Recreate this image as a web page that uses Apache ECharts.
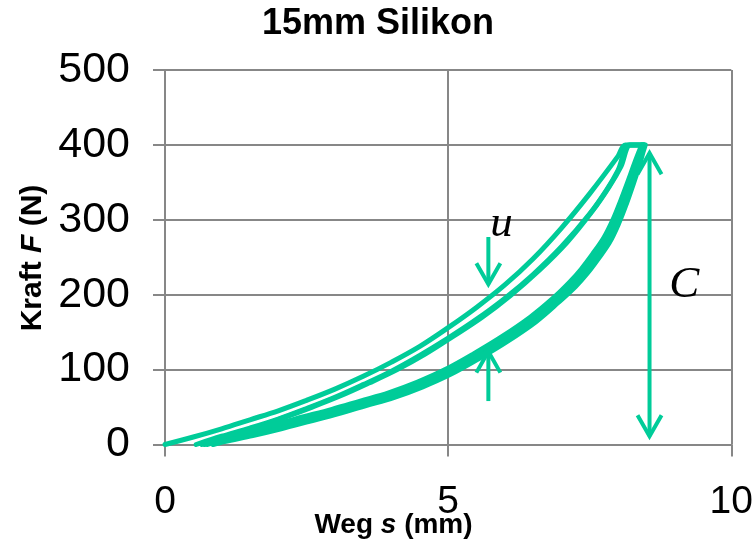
<!DOCTYPE html>
<html>
<head>
<meta charset="utf-8">
<script src="https://cdn.jsdelivr.net/npm/echarts@6/dist/echarts.min.js"></script>
<style>
html,body{margin:0;padding:0;background:#fff;}
#chart{width:756px;height:550px;}
</style>
</head>
<body>
<div id="chart"></div>
<script>
// ---- Data (Weg s in mm, Kraft F in N) ----
const titleText = '15mm Silikon';
const xAxisName = 'Weg {i|s} (mm)';
const yAxisName = 'Kraft {i|F} (N)';
const xMin = 0, xMax = 10, xStep = 5;
const yMin = 0, yMax = 500, yStep = 100;

// first loading curve
const loadA_s = [0, 0.5, 1.0, 1.5, 2.0, 2.5, 3.0, 3.5, 4.0, 4.5, 5.0, 5.5, 6.0, 6.5, 7.0, 7.5, 8.0, 8.13, 8.45];
const loadA_F = [0, 10, 21, 33, 45, 59, 74, 91, 110, 131, 156, 183, 213, 248, 289, 335, 385, 400, 400];

// later loading curves
const loadB_s = [0.55, 1.0, 1.5, 2.0, 2.5, 3.0, 3.5, 4.0, 4.5, 5.0, 5.5, 6.0, 6.5, 7.0, 7.5, 7.8, 8.0, 8.2, 8.45];
const loadB_F = [0, 11, 22, 34, 48, 63, 80, 98, 119, 142, 167, 195, 227, 264, 308, 340, 366, 400, 400];
const loadC_s = [0.65, 1.1, 1.6, 2.1, 2.6, 3.1, 3.6, 4.1, 4.6, 5.1, 5.6, 6.1, 6.6, 7.1, 7.55, 7.85, 8.05, 8.22, 8.45];
const loadC_F = [0, 12, 23, 36, 50, 65, 82, 100, 121, 145, 170, 199, 232, 270, 312, 345, 371, 400, 400];

// unloading curves
const unload1_s = [8.45, 8.4, 8.32, 8.22, 8.1, 7.96, 7.8, 7.6, 7.4, 7.2, 6.9, 6.5, 6.0, 5.5, 5.0, 4.5, 4.0, 3.5, 3.0, 2.5, 2.0, 1.5, 1.0, 0.75];
const unload1_F = [400, 390, 372, 350, 325, 298, 273, 251, 231, 214, 192, 167, 141, 118, 97, 80, 66, 55, 44, 34, 24, 15, 6, 0];
const unload2_s = [8.42, 8.36, 8.27, 8.17, 8.05, 7.91, 7.75, 7.55, 7.35, 7.15, 6.85, 6.45, 5.95, 5.45, 4.95, 4.45, 3.95, 3.45, 2.95, 2.45, 1.95, 1.45, 0.95, 0.7];
const unload2_F = [400, 389, 371, 350, 326, 300, 276, 254, 234, 217, 195, 170, 144, 121, 100, 83, 69, 58, 47, 37, 27, 18, 8, 0];
const unload3_s = [8.48, 8.44, 8.37, 8.27, 8.15, 8.01, 7.85, 7.65, 7.45, 7.25, 6.95, 6.55, 6.05, 5.55, 5.05, 4.55, 4.05, 3.55, 3.05, 2.55, 2.05, 1.55, 1.05, 0.85];
const unload3_F = [400, 390, 371, 348, 322, 295, 270, 248, 228, 211, 190, 164, 138, 115, 94, 77, 63, 52, 41, 31, 21, 12, 4, 0];

// annotation arrows: x position, tail F, tip F, number of heads
const arrowS    = [5.71, 5.71, 8.556];
const arrowTail = [277, 58, 11];
const arrowTip  = [214, 124, 389];
const arrowHeads = [1, 1, 2];

// annotation letters
const noteText = ['u', 'C'];
const noteS = [5.94, 9.17];
const noteF = [294, 213];

// ---- Chart ----
const teal = '#00cc99';
const gridGray = '#878787';
function pairs(xs, ys) { return xs.map((x, i) => [x, ys[i]]); }
const curves = [
  pairs(loadA_s, loadA_F),
  pairs(loadB_s, loadB_F),
  pairs(loadC_s, loadC_F),
  pairs(unload1_s, unload1_F),
  pairs(unload2_s, unload2_F),
  pairs(unload3_s, unload3_F)
];

const chart = echarts.init(document.getElementById('chart'), null, {renderer: 'canvas'});

const lineSeries = curves.map(d => ({
  type: 'line',
  data: d,
  showSymbol: false,
  smooth: 0.35,
  silent: true,
  lineStyle: {color: teal, width: 5, cap: 'round', join: 'round'},
  z: 3
}));

const arrowData = arrowS.map((s, i) => [s, arrowTail[i], arrowTip[i], arrowHeads[i]]);
function head(tip, from, L, W) {
  const dx = tip[0] - from[0], dy = tip[1] - from[1];
  const len = Math.sqrt(dx * dx + dy * dy) || 1;
  const ux = dx / len, uy = dy / len;
  const nx = -uy, ny = ux;
  return [
    [tip[0] - ux * L + nx * W, tip[1] - uy * L + ny * W],
    [tip[0], tip[1]],
    [tip[0] - ux * L - nx * W, tip[1] - uy * L - ny * W]
  ];
}

const option = {
  animation: false,
  backgroundColor: '#ffffff',
  grid: {left: 165, right: 21.5, top: 70, bottom: 105.5, containLabel: false},
  xAxis: {
    type: 'value', min: xMin, max: xMax, interval: xStep,
    axisLine: {show: true, onZero: false, lineStyle: {color: gridGray, width: 2}},
    axisTick: {show: true, length: 12, lineStyle: {color: gridGray, width: 2}},
    axisLabel: {margin: 38, color: '#000', fontSize: 39, fontFamily: 'Liberation Sans, Arial, sans-serif'},
    splitLine: {show: true, lineStyle: {color: gridGray, width: 2}}
  },
  yAxis: {
    type: 'value', min: yMin, max: yMax, interval: yStep,
    axisLine: {show: true, onZero: false, lineStyle: {color: gridGray, width: 2}},
    axisTick: {show: true, length: 12, lineStyle: {color: gridGray, width: 2}},
    axisLabel: {margin: 35, color: '#000', fontSize: 43, fontFamily: 'Liberation Sans, Arial, sans-serif'},
    splitLine: {show: true, lineStyle: {color: gridGray, width: 2}}
  },
  graphic: [
    {type: 'text', x: 378, y: 24, z: 10,
      style: {text: titleText, fill: '#000', fontSize: 36, fontWeight: 'bold',
        fontFamily: 'Liberation Sans, Arial, sans-serif', align: 'center', verticalAlign: 'middle'}},
    {type: 'text', x: 393.5, y: 525, z: 10,
      style: {text: xAxisName, fill: '#000', fontSize: 28, fontWeight: 'bold',
        fontFamily: 'Liberation Sans, Arial, sans-serif', align: 'center', verticalAlign: 'middle',
        rich: {i: {fontSize: 28, fontWeight: 'bold', fontStyle: 'italic', fontFamily: 'Liberation Sans, Arial, sans-serif'}}}},
    {type: 'text', x: 33, y: 258, rotation: Math.PI / 2, z: 10,
      style: {text: yAxisName, fill: '#000', fontSize: 30, fontWeight: 'bold',
        fontFamily: 'Liberation Sans, Arial, sans-serif', align: 'center', verticalAlign: 'middle',
        rich: {i: {fontSize: 30, fontWeight: 'bold', fontStyle: 'italic', fontFamily: 'Liberation Sans, Arial, sans-serif'}}}}
  ],
  series: lineSeries.concat([
    {
      type: 'custom',
      silent: true,
      z: 4,
      data: arrowData,
      encode: {x: 0, y: [1, 2]},
      renderItem: function (params, api) {
        const s = api.value(0);
        const p1 = api.coord([s, api.value(1)]);
        const p2 = api.coord([s, api.value(2)]);
        const n = api.value(3);
        const st = {stroke: teal, lineWidth: 4, fill: null, lineCap: 'butt', lineJoin: 'miter'};
        const children = [
          {type: 'line', shape: {x1: p1[0], y1: p1[1], x2: p2[0], y2: p2[1]}, style: st},
          {type: 'polyline', shape: {points: head(p2, p1, 21, 12)}, style: st}
        ];
        if (n > 1) children.push({type: 'polyline', shape: {points: head(p1, p2, 21, 12)}, style: st});
        return {type: 'group', children: children};
      }
    },
    {
      type: 'custom',
      silent: true,
      z: 5,
      data: noteS.map((s, i) => [s, noteF[i], i]),
      encode: {x: 0, y: 1},
      renderItem: function (params, api) {
        const p = api.coord([api.value(0), api.value(1)]);
        return {type: 'text', x: p[0], y: p[1],
          style: {text: noteText[api.value(2)], fill: '#000', fontSize: 45, fontStyle: 'italic',
            fontFamily: 'Liberation Serif, DejaVu Serif, serif', align: 'center', verticalAlign: 'middle'}};
      }
    }
  ])
};
chart.setOption(option);
</script>
</body>
</html>
